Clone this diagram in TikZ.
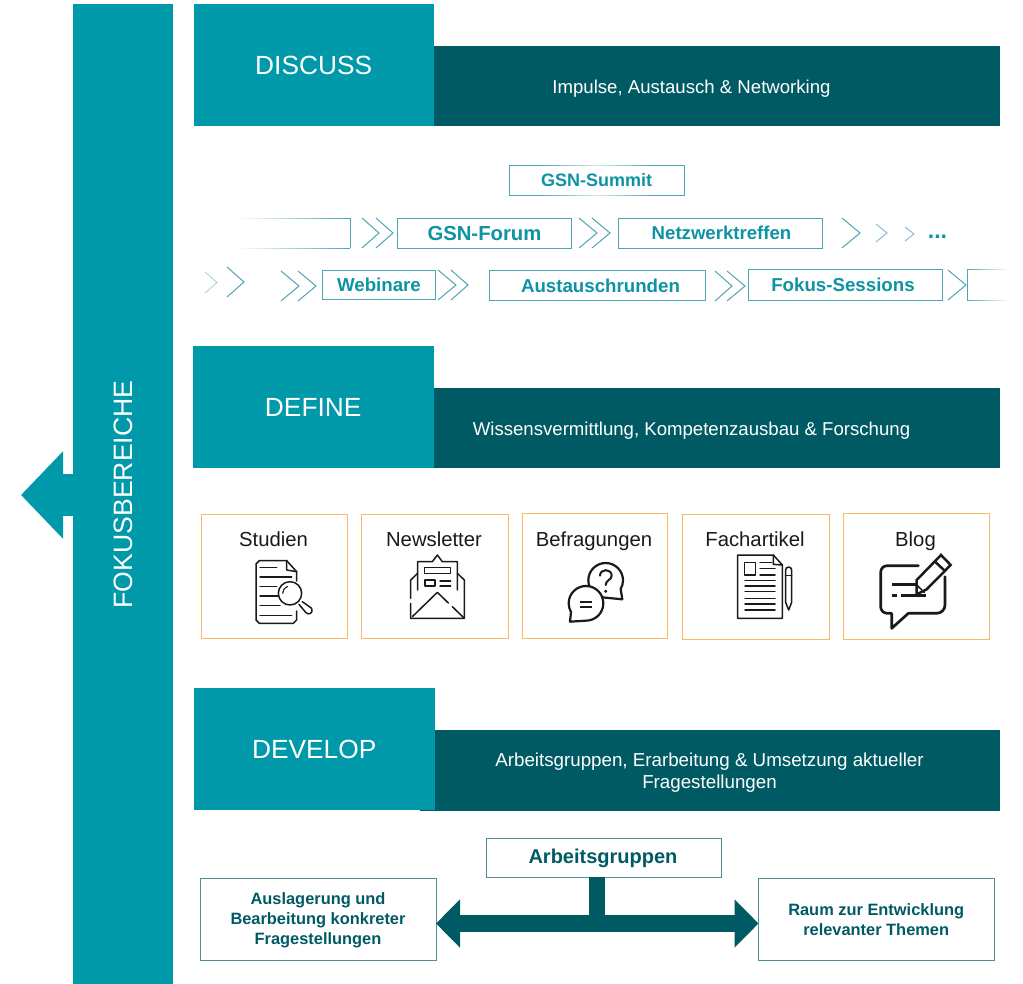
\documentclass[tikz,border=0pt]{standalone}
\usepackage{fontspec}
\setmainfont{Liberation Sans}
\usetikzlibrary{arrows.meta}
\definecolor{tealm}{HTML}{0099A9}
\definecolor{teald}{HTML}{005A64}
\definecolor{tealline}{HTML}{4FA5B3}
\definecolor{tealtext}{HTML}{0E93A5}
\definecolor{orangeb}{HTML}{F9B968}
\definecolor{greyb}{HTML}{4F8F96}
\definecolor{icon}{HTML}{1A1A1A}
\newcommand{\chevr}[5][tealline]{\draw[#1,line width=1pt] (#2,#4) -- (#3,{(#4+#5)/2}) -- (#2,#5);}
\newcommand{\fsz}[1]{\fontsize{#1}{#1}\selectfont}
% fading horizontal line: x0, x1, y, start strength, end strength
\newcommand{\fadeline}[5]{%
  \foreach \i in {0,...,23}{%
    \pgfmathsetmacro{\xa}{#1+(#2-#1)*\i/24}%
    \pgfmathsetmacro{\xb}{#1+(#2-#1)*(\i+1)/24}%
    \pgfmathsetmacro{\pc}{#4+(#5-#4)*(\i+.5)/24}%
    \draw[tealline!\pc!white,line width=0.9pt] (\xa,#3) -- (\xb,#3);%
  }}
\tikzset{
  x=1pt,y=-1pt,
  headbox/.style={fill=tealm,text=white,anchor=north west,inner sep=0pt,minimum width=#1,minimum height=122pt,font=\fsz{26.3}},
  barbox/.style={fill=teald,anchor=north west,inner sep=0pt,minimum width=#1,minimum height=80pt},
  bartext/.style={text=white,align=center,inner sep=0pt,font=\fontsize{18.6}{22}\selectfont},
  stepbox/.style={draw=tealline,line width=0.9pt,fill=white,text=tealtext,anchor=north west,inner sep=0pt,font=\bfseries\fsz{18.7}},
  steptext/.style={text=tealtext,inner sep=0pt,font=\bfseries\fsz{18.7}},
  orbox/.style={draw=orangeb,line width=1pt,anchor=north west,inner sep=0pt},
  lab/.style={text=icon,inner sep=0pt,anchor=base,font=\fsz{20.3}},
  resbox/.style={draw=greyb,line width=0.9pt,fill=white,text=teald,anchor=north west,inner sep=0pt,align=center,font=\bfseries\fontsize{16.4}{20}\selectfont},
  restext/.style={text=teald,inner sep=0pt,align=center,font=\bfseries\fontsize{16.4}{20}\selectfont},
  ic/.style={draw=icon,line width=1.5pt,line cap=round,line join=round},
}
\begin{document}
\begin{tikzpicture}
\useasboundingbox (0,0) rectangle (1023,984);
\fill[white] (0,0) rectangle (1023,984);

% left bar and arrow
\node[fill=tealm,anchor=north west,inner sep=0pt,minimum width=100pt,minimum height=980pt] (bar) at (73,4) {};
\coordinate (arrowstart) at (74,495);
\coordinate (arrowtip) at (21,495);
\draw[tealm,line width=42pt,-{Triangle[length=42pt,width=85pt]}] (arrowstart) -- (arrowtip);
\node[text=white,rotate=90,inner sep=0pt,font=\fsz{26.6}] (fokus) at (123,494.5) {FOKUSBEREICHE};

% headers
\node[barbox=566pt] (b1) at (434,46) {};
\node[headbox=240pt] (h1) at (193.5,4) {DISCUSS};
\node[bartext] (t1) at (691.5,89) {Impulse, Austausch \& Networking};
\node[barbox=566pt] (b2) at (434,388) {};
\node[headbox=241pt] (h2) at (192.5,346) {DEFINE};
\node[bartext] (t2) at (691.5,431) {Wissensvermittlung, Kompetenzausbau \& Forschung};
\node[barbox=580pt,minimum height=81pt] (b3) at (420,730) {};
\node[headbox=241pt] (h3) at (193.5,688) {DEVELOP};
\node[bartext,font=\fontsize{18.75}{22}\selectfont] (t3) at (709.5,773) {Arbeitsgruppen, Erarbeitung \& Umsetzung aktueller\\Fragestellungen};

% discuss: step boxes
\node[steptext,font=\bfseries\fsz{18}] (summit) at (596.5,180) {GSN-Summit};
\draw[tealline,line width=0.9pt] (540,165) -- (509,165) -- (509,195) -- (540,195);
\draw[tealline,line width=0.9pt] (653,165) -- (684,165) -- (684,195) -- (653,195);
\fadeline{540}{597}{165}{100}{25}
\fadeline{597}{653}{165}{25}{100}
\fadeline{540}{597}{195}{100}{25}
\fadeline{597}{653}{195}{25}{100}

\fadeline{237}{350}{218}{0}{100}
\fadeline{237}{350}{248}{0}{100}
\draw[tealline,line width=0.9pt] (350,218) -- (350,248);
\chevr{362}{379}{218}{248}
\chevr{376}{393}{218}{248}
\node[stepbox,minimum width=174pt,minimum height=30pt,font=\bfseries\fsz{20.3}] (forum) at (397,218) {GSN-Forum};
\chevr{579}{597}{218}{248}
\chevr{592}{610}{218}{248}
\node[stepbox,minimum width=203.5pt,minimum height=30pt] (netz) at (618,218) {};
\node[steptext,font=\bfseries\fsz{18.6}] (netzt) at (721.5,233) {Netzwerktreffen};
\chevr{842}{860}{218}{248}
\chevr[tealline!70]{876}{887}{224}{242}
\chevr[tealline!70]{905}{914}{227}{241}
\node[text=tealtext,inner sep=0pt,font=\bfseries\fsz{23}] (dots) at (937.5,236.5) {...};

\chevr[tealline!45]{205}{217}{272}{293}
\chevr{227}{244}{267}{297}
\chevr{281}{299}{271}{301}
\chevr{298}{316}{271}{301}
\node[stepbox,minimum width=113pt,minimum height=29pt] (web) at (322,270) {Webinare};
\chevr{438}{456}{270}{300}
\chevr{451}{468}{270}{300}
\node[stepbox,minimum width=216pt,minimum height=30pt] (aus) at (489,270) {};
\node[steptext] (aust) at (600.5,286) {Austauschrunden};
\chevr{715}{732}{271}{301}
\chevr{727}{745}{271}{301}
\node[stepbox,minimum width=194pt,minimum height=31pt] (fok) at (748,269) {};
\node[steptext] (fokt) at (843,285) {Fokus-Sessions};
\chevr{948}{966}{270}{300}
\draw[tealline,line width=0.9pt] (967,269) -- (967,300);
\fadeline{967}{1010}{269}{100}{0}
\fadeline{967}{1010}{300}{100}{0}

% define: cards
\node[orbox,minimum width=146.5pt,minimum height=124pt] (c1) at (200.5,514) {};
\node[lab] (l1) at (273.5,546) {Studien};
\node[orbox,minimum width=146.5pt,minimum height=124pt] (c2) at (361,514) {};
\node[lab] (l2) at (434,546) {Newsletter};
\node[orbox,minimum width=145.5pt,minimum height=125.5pt] (c3) at (521.5,512.5) {};
\node[lab] (l3) at (594,546) {Befragungen};
\node[orbox,minimum width=147pt,minimum height=125pt] (c4) at (682,514) {};
\node[lab] (l4) at (755,546) {Fachartikel};
\node[orbox,minimum width=146.5pt,minimum height=126pt] (c5) at (842.5,512.5) {};
\node[lab] (l5) at (915.5,546) {Blog};

% Studien and Newsletter icons
\begin{scope}[shift={(195,505)},scale=1/3]
\draw[ic] (305,228) -- (305,200) -- (275,167) -- (193,167) -- (183,177) -- (183,345) -- (193,355) -- (295,355) -- (305,345) -- (305,318);
\draw[ic] (275,167) -- (275,195) -- (305,200);
\foreach \a/\b/\c in {188/195/245,216/195/290,245/195/245,273/195/248,302/195/255,331/195/290}
  \draw[ic] (\b,\a) -- (\c,\a);
\draw[ic,fill=white] (285,265) circle[radius=35];
\draw[ic,line width=1.1pt] (263,265) arc[start angle=180,end angle=250,radius=22];
\draw[ic] (322,290) -- (350,310) .. controls (356,325) and (340,332) .. (332,322) -- (312,298);
\draw[ic] (647,280) -- (647,225) -- (668,205);
\draw[ic] (647,295) -- (647,340) -- (808,340) -- (808,225) -- (787,205);
\draw[ic] (668,255) -- (668,170) -- (712,170) -- (727,150) -- (742,170) -- (787,170) -- (787,255);
\draw[ic] (652,335) -- (727,262) -- (760,294);
\draw[ic] (772,305) -- (806,338);
\draw[ic] (688,188) rectangle (767,205);
\draw[ic] (690,225) rectangle (720,243);
\draw[ic] (735,228) -- (767,228);
\draw[ic] (735,243) -- (767,243);
\end{scope}

% Befragungen and Fachartikel icons
\begin{scope}[shift={(515,505)},scale=1/3]
\draw[ic,line width=2.2pt] (322,283) -- (272,278) arc[start angle=90,end angle=390,radius=52] -- cycle;
\draw[ic,line width=2.2pt,fill=white] (165,350) -- (213,347) arc[start angle=90,end angle=-210,radius=52] -- cycle;
\draw[ic,line width=2.2pt,line cap=butt] (195,290) -- (232,290);
\draw[ic,line width=2.2pt,line cap=butt] (195,305) -- (232,305);
\draw[ic,line width=2pt] (255,212) .. controls (255,190) and (290,190) .. (290,212) .. controls (290,225) and (272,225) .. (272,240);
\fill[icon] (272,259) circle[radius=5];
\draw[ic] (668,150) -- (775,150) -- (802,180) -- (802,340) -- (668,340) -- cycle;
\draw[ic] (775,150) -- (775,178) -- (802,180);
\draw[ic] (688,172) rectangle (722,210);
\foreach \a/\c in {173/770,190/780,210/780}
  \draw[ic] (735,\a) -- (\c,\a);
\foreach \a in {227,243,260,280,297,315}
  \draw[ic] (690,\a) -- (780,\a);
\draw[ic] (812,292) -- (812,195) arc[start angle=180,end angle=360,radius=9] -- (830,292) -- (821,315) -- cycle;
\draw[ic] (812,212) -- (830,212);
\end{scope}

% Blog icon
\begin{scope}[shift={(835,505)},scale=1/3]
\draw[ic,line width=2.7pt] (250,182) -- (157,182) arc[start angle=-90,end angle=-180,radius=20] -- (137,305) arc[start angle=180,end angle=90,radius=20] -- (170,325) -- (170,370) -- (220,325) -- (305,325) arc[start angle=90,end angle=0,radius=25] -- (330,215);
\draw[ic,line width=2.5pt,line join=miter] (245,225) -- (318,150) -- (347,180) -- (275,253) -- (245,268) -- cycle;
\draw[ic,line width=2.5pt] (300,170) -- (330,198);
\draw[ic,line width=2.5pt,line cap=butt] (172,238) -- (250,238);
\draw[ic,line width=2.5pt,line cap=butt] (172,272) -- (185,272);
\draw[ic,line width=2.5pt,line cap=butt] (197,272) -- (272,272);
\draw[ic,line width=1.5pt] (245,240) -- (268,262);
\end{scope}

% develop: result boxes
\node[resbox,minimum width=234.5pt,minimum height=38.5pt] (ag) at (486,838) {};
\node[restext,font=\bfseries\fsz{20}] (agt) at (603,858) {Arbeitsgruppen};
\node[resbox,minimum width=235.5pt,minimum height=81.5pt] (lb) at (200,878) {};
\node[restext] (lbt) at (318,920) {Auslagerung und\\Bearbeitung konkreter\\Fragestellungen};
\node[resbox,minimum width=235.5pt,minimum height=81.5pt] (rb) at (758,878) {Raum zur Entwicklung\\relevanter Themen};
\coordinate (stemtop) at (597,877);
\coordinate (stembot) at (597,923.5);
\coordinate (al) at (436,923.5);
\coordinate (ar) at (758.5,923.5);
\draw[teald,line width=16.5pt] (stemtop) -- (stembot);
\draw[teald,line width=17pt,{Triangle[length=24pt,width=47pt]}-{Triangle[length=24pt,width=47pt]}] (al) -- (ar);
\end{tikzpicture}
\end{document}
